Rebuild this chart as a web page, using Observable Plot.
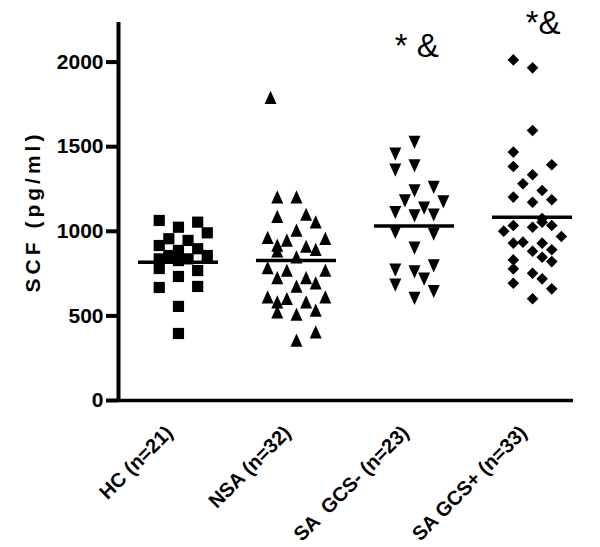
<!DOCTYPE html>
<html><head><meta charset="utf-8">
<script src="https://cdn.jsdelivr.net/npm/d3@7"></script>
<script src="https://cdn.jsdelivr.net/npm/@observablehq/plot@0.6"></script>
<style>body{margin:0;background:#fff}</style>
</head><body><div id="chart"></div>
<script>
// ---- data ----
const groups = ["HC (n=21)", "NSA (n=32)", "SA  GCS- (n=23)", "SA GCS+ (n=33)"];

const hcValues  = [1064,1054,1024,991,956,946,916,887,857,897,857,837,837,827,780,768,733,674,668,556,396];
const hcCols    = [-2,2,0,3,-1,1,-2,0,-1,2,3,1,-2,0,-2,2,0,2,-2,0,0];

const nsaValues = [1202,1202,1087,1099,1054,1005,962,946,956,916,910,891,882,847,784,768,768,725,725,693,674,611,601,611,581,581,522,532,508,404,355,1790];
const nsaCols   = [-2,0,-2,1,2,0,-3,-1,3,-2,1,2,-2,0,-3,-1,3,-2,1,2,0,-3,-1,3,-2,1,-2,2,0,2,0,-2.7];

const gcsNegValues = [1527,1458,1363,1389,1241,1261,1182,1176,1139,1113,1093,1098,995,985,902,772,762,798,719,684,646,605,1000];
const gcsNegCols   = [0,-2,-2,0,0,2,-1,3,1,-2,0,2,-2,2,0,-2,0,2,1,-2,2,0,-2];

const gcsPosValues = [2013,1966,1596,1468,1383,1393,1334,1281,1241,1202,1172,1186,1001,1034,1024,1054,1034,969,930,936,930,882,891,847,831,821,778,752,719,693,660,601,1075];
const gcsPosCols   = [-2,0,0,-2,-2,2,0,-1,1,-2,0,2,-3,-2,0,1,2,3,-2,-1,1,0,2,1,-2,2,-2,0,1,-2,2,0,1];

const centerLines = [817, 827, 1032, 1083];
const annotationLabels = ["* &", "*&"];
const annotationGroups = [2.02, 3.09];
const annotationValues = [2090, 2228];
const yTicks = [0, 500, 1000, 1500, 2000];

// ---- build tables ----
const colStep = 0.0814;
const halfLine = 0.339;
const xDomain = [-0.508, 3.347];
const yDomain = [0, 2234];

function shape(pts) {
  return {draw(ctx, size) {
    const r = Math.sqrt(size / Math.PI);
    pts.forEach(([x, y], i) => i ? ctx.lineTo(x * r, y * r) : ctx.moveTo(x * r, y * r));
    ctx.closePath();
  }};
}
const symSquare = shape([[-1,-1],[1,-1],[1,1],[-1,1]]);
const symUp = shape([[0,-1.15],[1,1.05],[-1,1.05]]);
const symDown = shape([[0,1.15],[1,-1.05],[-1,-1.05]]);
const symDiamond = shape([[0,-1],[1,0],[0,1],[-1,0]]);

function table(values, cols, g) {
  return values.map((v, i) => ({group: g, x: g + cols[i] * colStep, value: v}));
}
const hc = table(hcValues, hcCols, 0);
const nsa = table(nsaValues, nsaCols, 1);
const gneg = table(gcsNegValues, gcsNegCols, 2);
const gpos = table(gcsPosValues, gcsPosCols, 3);
const lines = centerLines.map((v, i) => ({group: i, value: v}));
const annotations = annotationLabels.map((t, i) => ({label: t, group: annotationGroups[i], value: annotationValues[i]}));

const font = "Liberation Sans, Arial, Helvetica, sans-serif";

const chart = Plot.plot({
  width: 600,
  height: 547,
  marginLeft: 118,
  marginRight: 27,
  marginTop: 22,
  marginBottom: 147,
  style: {fontFamily: font, background: "white", color: "black", overflow: "visible"},
  x: {type: "linear", domain: xDomain, axis: null},
  y: {domain: yDomain, axis: null},
  marks: [
    Plot.dot(hc, {x: "x", y: "value", symbol: symSquare, r: 5.6, fill: "black", stroke: "none"}),
    Plot.dot(nsa, {x: "x", y: "value", symbol: symUp, r: 6, fill: "black", stroke: "none"}),
    Plot.dot(gneg, {x: "x", y: "value", symbol: symDown, r: 6, fill: "black", stroke: "none"}),
    Plot.dot(gpos, {x: "x", y: "value", symbol: symDiamond, r: 5.8, fill: "black", stroke: "none"}),
    Plot.ruleY(lines, {y: "value", x1: d => d.group - halfLine, x2: d => d.group + halfLine, strokeWidth: 3.5, stroke: "black"}),
    Plot.ruleX([xDomain[0]], {y1: yDomain[0], y2: yDomain[1], strokeWidth: 4, stroke: "black"}),
    Plot.ruleY([0], {x1: xDomain[0], x2: xDomain[1], strokeWidth: 3.5, stroke: "black"}),
    Plot.axisY({ticks: yTicks, tickSize: 12, tickPadding: 3, strokeWidth: 4, fontSize: 21, fontWeight: "bold", label: null, tickFormat: d => String(d)}),
    Plot.axisX({ticks: [0, 1, 2, 3], tickFormat: i => groups[i], tickRotate: -45, tickSize: 0, tickPadding: 29, dx: -9, fontSize: 20, fontWeight: "bold", label: null}),
    Plot.text(["SCF (pg/ml)"], {frameAnchor: "left", dx: -85, rotate: -90, textAnchor: "middle", fontSize: 21, fontWeight: "bold"}),
    Plot.text(annotations, {x: "group", y: "value", text: "label", fontSize: 33, fontWeight: "normal"})
  ]
});
document.getElementById("chart").appendChild(chart);
d3.select(chart).selectAll("text").filter(function() { return this.textContent === "SCF (pg/ml)"; }).attr("letter-spacing", "4px");
</script>
</body></html>
